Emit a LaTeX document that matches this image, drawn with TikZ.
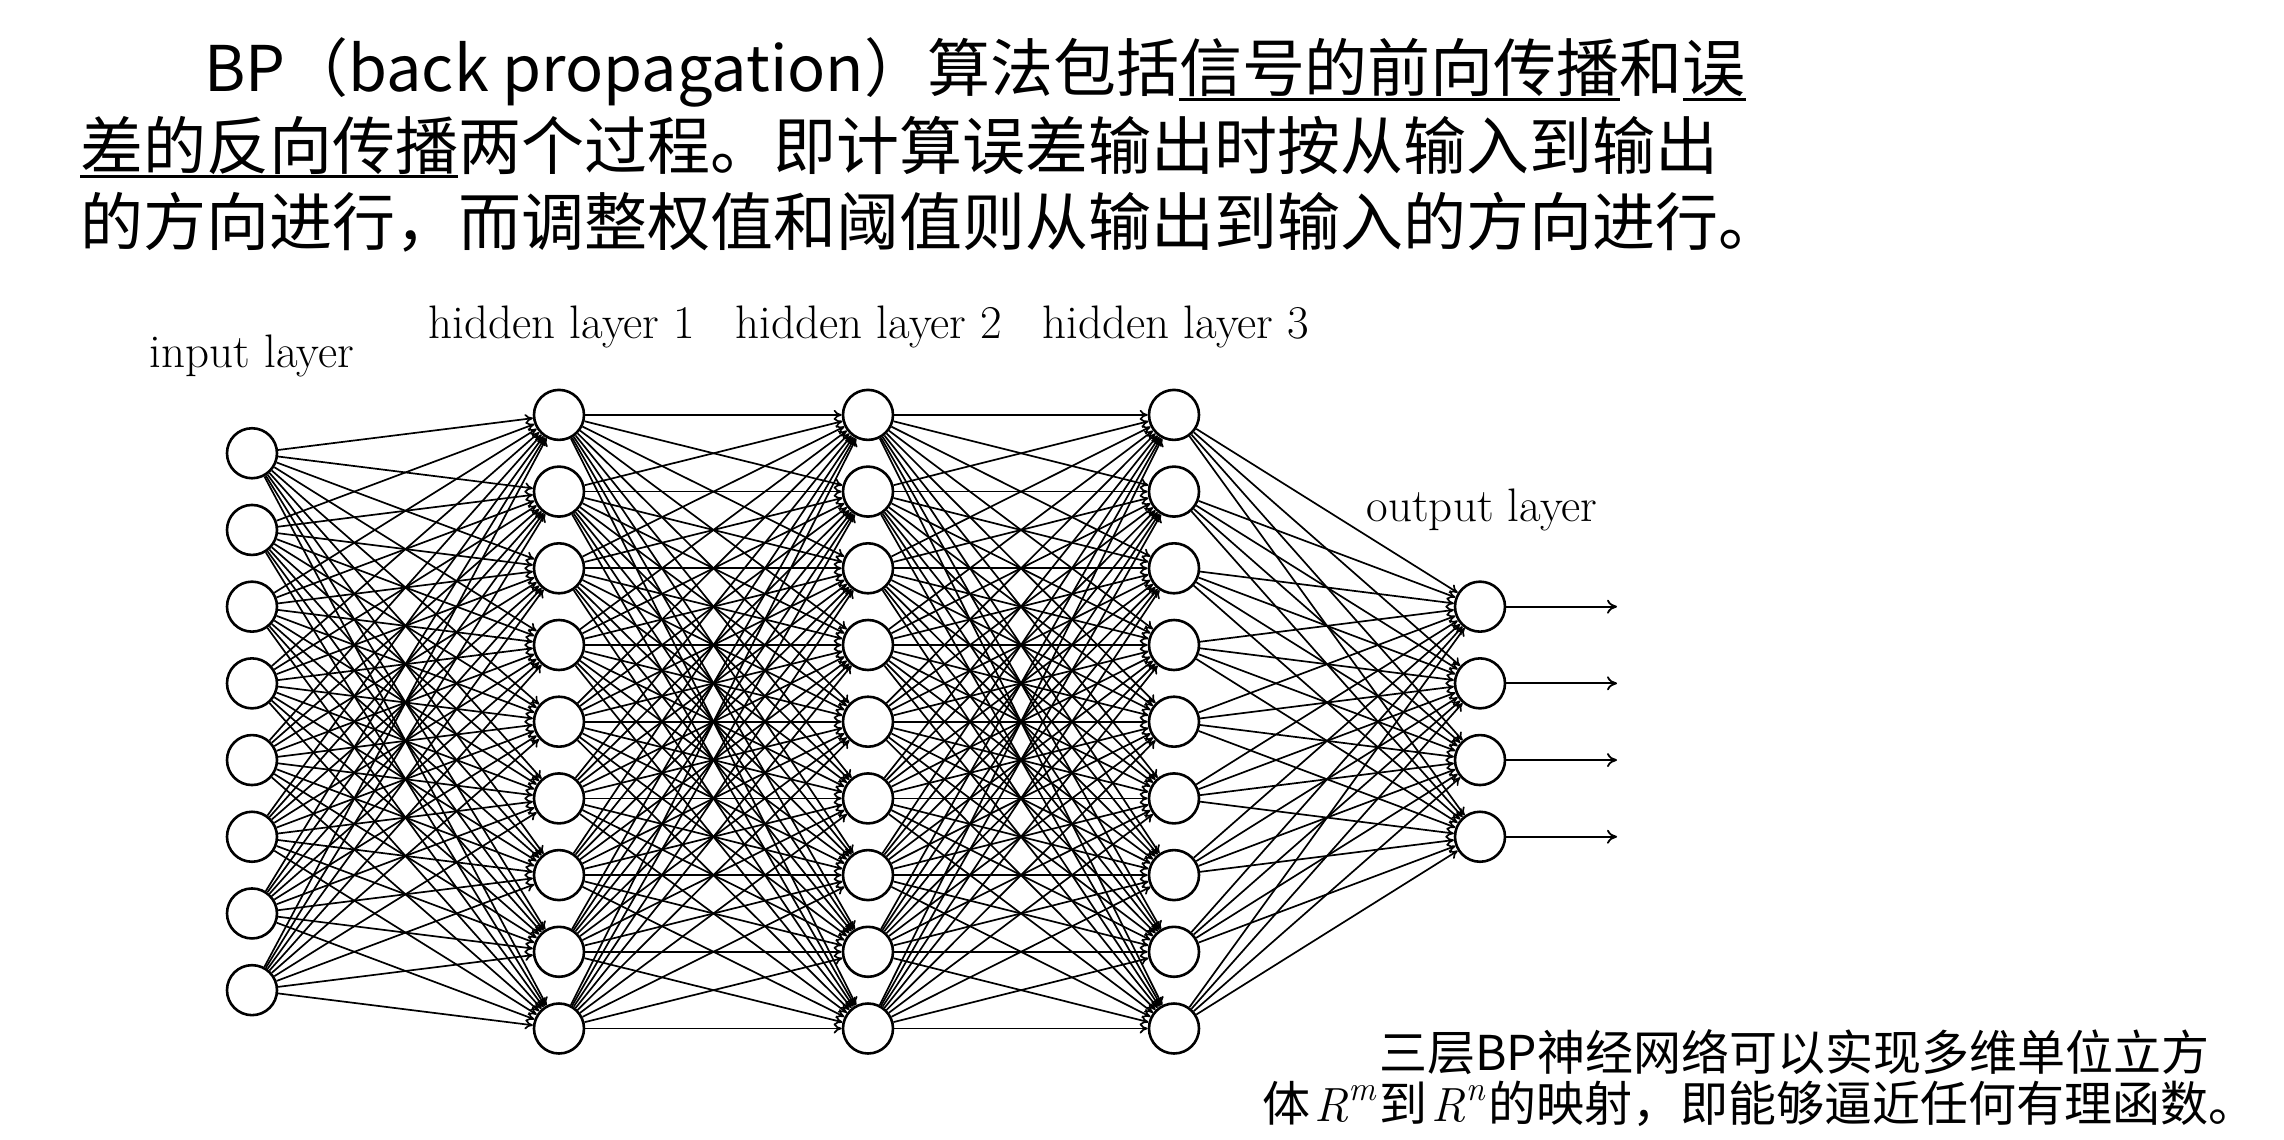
\documentclass[tikz,border=0pt]{standalone}
\usepackage{fontspec}
\newfontfamily\kai{Noto Sans CJK SC}
\usetikzlibrary{arrows.meta}
\newcommand\myul[1]{\setbox0\hbox{#1}\rlap{\rule[-9pt]{\wd0}{3.2pt}}\box0}
\newcommand\Rsup[1]{\hspace{4pt}{\rmfamily\itshape R}\raisebox{0.42em}{\fontsize{34}{34}\selectfont\rmfamily\itshape #1}\hspace{4pt}}
\begin{document}
\begin{tikzpicture}[x=1pt,y=-1pt,
  neuron/.style={circle,draw=black,line width=2.6pt,fill=white,minimum size=50pt,inner sep=0pt},
  edge/.style={line width=1.7pt,black,-{To[length=8pt,width=10pt]}},
  outarrow/.style={line width=1.8pt,-{To[length=10pt,width=14pt]}},
  layerlabel/.style={font=\fontsize{47}{56}\selectfont,anchor=base,inner sep=0pt},
  toptext/.style={font=\kai\fontsize{63}{76}\selectfont,anchor=base west,inner sep=0pt},
  bottext/.style={font=\kai\fontsize{48}{58}\selectfont,anchor=base west,inner sep=0pt}]
\path[use as bounding box,fill=white] (0,0) rectangle (2284,1140);

% top paragraph
\node[toptext] (t1) at (204,92) {BP（back propagation）算法包括\myul{信号的前向传播}和\myul{误}};
\node[toptext] (t2) at (80,169) {\myul{差的反向传播}两个过程。即计算误差输出时按从输入到输出};
\node[toptext] (t3) at (80,245) {的方向进行，而调整权值和阈值则从输出到输入的方向进行。};

% layer labels
\node[layerlabel] (lin) at (252,367) {input layer};
\node[layerlabel] (lh1) at (562,338) {hidden layer 1};
\node[layerlabel] (lh2) at (869,338) {hidden layer 2};
\node[layerlabel] (lh3) at (1176,338) {hidden layer 3};
\node[layerlabel] (lout) at (1482,521) {output layer};

% neurons
\foreach \i in {1,...,8} \node[neuron] (in\i) at (252,{721.7+(\i-4.5)*76.7}) {};
\foreach \j in {1,...,9} {
  \node[neuron] (ha\j) at (559,{721.7+(\j-5)*76.7}) {};
  \node[neuron] (hb\j) at (868,{721.7+(\j-5)*76.7}) {};
  \node[neuron] (hc\j) at (1174,{721.7+(\j-5)*76.7}) {};
}
\foreach \k in {1,...,4} {
  \node[neuron] (out\k) at (1480,{721.7+(\k-2.5)*76.7}) {};
  \coordinate (end\k) at (1617,{721.7+(\k-2.5)*76.7});
}

% connections
\foreach \i in {1,...,8} \foreach \j in {1,...,9} \draw[edge] (in\i) -- (ha\j);
\foreach \i in {1,...,9} \foreach \j in {1,...,9} {
  \draw[edge] (ha\i) -- (hb\j);
  \draw[edge] (hb\i) -- (hc\j);
}
\foreach \i in {1,...,9} \foreach \k in {1,...,4} \draw[edge] (hc\i) -- (out\k);
\foreach \k in {1,...,4} \draw[outarrow] (out\k) -- (end\k);

% bottom caption
\node[bottext] (b1) at (1379,1070) {三层BP神经网络可以实现多维单位立方};
\node[bottext] (b2) at (1262,1121) {体\Rsup{m}到\Rsup{n}的映射，即能够逼近任何有理函数。};
\end{tikzpicture}
\end{document}
